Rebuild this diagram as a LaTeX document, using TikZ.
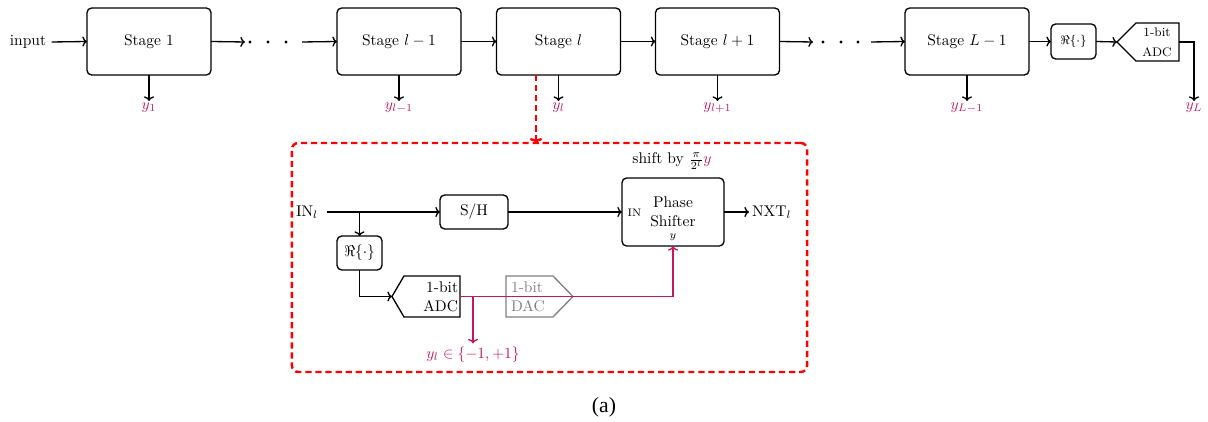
\documentclass[tikz,border=0pt]{standalone}
\usepackage{fontspec}
\newfontfamily\capfont{Liberation Serif}
\usetikzlibrary{calc,arrows.meta}
\definecolor{mag}{RGB}{196,24,92}
\definecolor{dred}{RGB}{255,0,0}
\begin{document}
\begin{tikzpicture}[x=0.645pt,y=-0.645pt,
  every node/.style={inner sep=0pt, outer sep=0pt},
  wire/.style={line width=0.85pt},
  arr/.style={wire,-{To[length=3pt,width=6.5pt]}},
  magwire/.style={line width=0.85pt, draw=mag},
  stagebox/.style={draw, line width=0.85pt, rounded corners=3pt, minimum width=80pt, minimum height=43.2pt},
  rbox/.style={draw, line width=0.85pt, rounded corners=3pt},
  shapebox/.style={draw=none},
  ylab/.style={text=mag, anchor=north, inner sep=1pt},
  reddash/.style={draw=dred, line width=1.6pt, dash pattern=on 4pt off 2.5pt},
]
\useasboundingbox (0,0) rectangle (1208,422);

% ---------- top row ----------
\node[inner sep=3.5pt] (input) at (28,42) {input};
\node[stagebox] (s1) at (149,41.5) {Stage 1};
\node[minimum width=36.8pt, minimum height=4pt] (d1) at (273.5,42) {};
\fill (250,42) circle[radius=1.1pt] (268,42) circle[radius=1.1pt] (286,42) circle[radius=1.1pt];
\node[stagebox] (slm1) at (399,41.5) {Stage $l-1$};
\node[stagebox] (sl) at (558.5,41.5) {Stage $l$};
\node[stagebox] (slp1) at (717.5,41.5) {Stage $l+1$};
\node[minimum width=37.4pt, minimum height=4pt] (d2) at (842,42) {};
\fill (823,42) circle[radius=1.1pt] (841,42) circle[radius=1.1pt] (858,42) circle[radius=1.1pt];
\node[stagebox] (sLm1) at (967,41.5) {Stage $L-1$};
\node[rbox, minimum width=29pt, minimum height=22.6pt, font=\footnotesize] (tre) at (1073.5,41.5) {$\Re\{\cdot\}$};
\node[shapebox, minimum width=40pt, minimum height=24.5pt] (tadc) at (1148,42) {};
\draw[wire] (tadc.west) -- ($(tadc.north west)+(19,0)$) -- (tadc.north east) -- (tadc.south east) -- ($(tadc.south west)+(19,0)$) -- cycle;
\node[font=\footnotesize, align=center] (tadctxt) at ($(tadc.center)+(9,0)$) {1-bit\\[3.5pt]ADC};

\draw[arr] (input.east) -- (s1.west);
\draw[arr] (s1.east) -- (d1.west);
\draw[arr] (d1.east) -- (slm1.west);
\draw[arr] (slm1.east) -- (sl.west);
\draw[arr] (sl.east) -- (slp1.west);
\draw[arr] (slp1.east) -- (d2.west);
\draw[arr] (d2.east) -- (sLm1.west);
\draw[arr] (sLm1.east) -- (tre.west);
\draw[arr] (tre.east) -- (tadc.west);

% outputs
\node[ylab] (y1) at (149,101) {$y_1$};
\node[ylab] (ylm1) at (399,101) {$y_{l-1}$};
\node[ylab] (yl) at (558.5,101) {$y_l$};
\node[ylab] (ylp1) at (717.5,101) {$y_{l+1}$};
\node[ylab] (yLm1) at (967,101) {$y_{L-1}$};
\node[ylab] (yL) at (1194,101) {$y_L$};
\draw[arr] (s1.south) -- (y1.north);
\draw[arr] (slm1.south) -- (ylm1.north);
\draw[arr] (sl.south) -- (yl.north);
\draw[arr] (slp1.south) -- (ylp1.north);
\draw[arr] (sLm1.south) -- (yLm1.north);
\draw[arr] (tadc.east) -| (yL.north);

% ---------- detail box ----------
\node[reddash, rounded corners=4pt, minimum width=332.2pt, minimum height=147.7pt] (detail) at (549.5,257.5) {};
\coordinate (tap) at ($(sl.south)+(-22.5,0)$);
\draw[reddash, -{To[length=3.2pt,width=8pt]}] (tap) -- (tap |- detail.north);

\node[inner sep=0pt] (inl) at (307,212) {IN$_l$};
\node[rbox, minimum width=43.9pt, minimum height=21.9pt] (sh) at (474,212) {S/H};
\coordinate (br1) at (359.5,212);
\node[rbox, minimum width=29pt, minimum height=21.9pt] (inre) at (359.5,253) {$\Re\{\cdot\}$};

\node[shapebox, minimum width=43.9pt, minimum height=26.4pt] (inadc) at (426,296.5) {};
\draw[wire] (inadc.west) -- ($(inadc.north west)+(12,0)$) -- (inadc.north east) -- (inadc.south east) -- ($(inadc.south west)+(12,0)$) -- cycle;
\node[align=right, anchor=east] (inadctxt) at ($(inadc.east)+(-2,0)$) {1-bit\\ADC};

\node[shapebox, minimum width=43.2pt, minimum height=26.4pt] (dac) at (539.5,296.5) {};
\draw[line width=0.85pt, draw=gray] (dac.north west) -- ($(dac.north east)+(-20,0)$) -- (dac.east) -- ($(dac.south east)+(-20,0)$) -- (dac.south west) -- cycle;
\node[align=left, anchor=west, text=gray] (dactxt) at ($(dac.west)+(5,0)$) {1-bit\\DAC};

\node[rbox, minimum width=65.8pt, minimum height=43.9pt, align=center] (ps) at (673,212) {Phase\\Shifter};
\node[font=\fontsize{7}{8}\selectfont] (psin) at (634.5,212.5) {IN};
\node[font=\scriptsize] (psy) at (673,237) {$y$};
\node[inner sep=2pt, anchor=west] (nxt) at (749,212) {NXT$_l$};
\node (shift) at (672,161) {shift by $\frac{\pi}{2^l}\textcolor{mag}{y}$};

\draw[wire] (inl.east) ++(9,0) -- (br1);
\draw[arr] (br1) -- (sh.west);
\draw[arr] (br1) -- (inre.north);
\draw[arr] (inre.south) |- (inadc.west);
\draw[arr] (sh.east) -- (ps.west);
\draw[arr] (ps.east) -- (nxt.west);

\coordinate (br2) at ($(inadc.east)+(13,0)$);
\node[text=mag, anchor=north, inner sep=2pt] (ylset) at ($(br2)+(0,47)$) {$y_l\in\{-1,+1\}$};
\draw[magwire, -{To[length=3pt,width=6.5pt]}] (inadc.east) -| (ps.south);
\draw[magwire, -{To[length=3pt,width=6.5pt]}] (br2) -- (ylset.north);

% caption
\node[font=\capfont\fontsize{14}{16}\selectfont] (cap) at (604,407) {(a)};
\end{tikzpicture}
\end{document}
